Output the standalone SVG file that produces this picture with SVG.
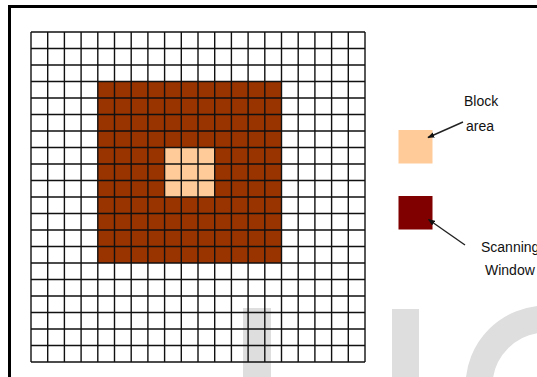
<svg xmlns="http://www.w3.org/2000/svg" width="537" height="377" viewBox="0 0 537 377">
<defs>
<style>
.wm{fill:#dedede}
.grid{stroke:#111;stroke-width:1.4;fill:none}
.lbl{font-family:"Liberation Sans",Arial,sans-serif;font-size:14px;fill:#111}
.arr{stroke:#222;stroke-width:1.4;fill:none}
</style>
<marker id="ah" viewBox="0 0 10 10" refX="9" refY="5" markerWidth="7" markerHeight="7" orient="auto" markerUnits="userSpaceOnUse">
<path d="M0,1 L10,5 L0,9 Z" fill="#111"/>
</marker>
</defs>
<rect x="0" y="0" width="537" height="377" fill="#fff"/>
<rect x="9.5" y="6.5" width="600" height="420" fill="none" stroke="#000" stroke-width="3"/>
<g id="watermark">
<rect class="wm" x="243" y="308" width="28" height="70"/>
<rect class="wm" x="392" y="309" width="27" height="70"/>
<circle cx="546" cy="386" r="67" fill="none" stroke="#dedede" stroke-width="27"/>
</g>
<g id="grid-fill">
<rect x="97.8" y="81.5" width="183.7" height="181.5" fill="#993300"/>
<rect x="164.6" y="147.5" width="50.1" height="49.5" fill="#ffcc99"/>
</g>
<g id="grid" class="grid">
<path d="M31,32V362M47.7,32V362M64.4,32V362M81.1,32V362M97.8,32V362M114.5,32V362M131.2,32V362M147.9,32V362M164.6,32V362M181.3,32V362M198,32V362M214.7,32V362M231.4,32V362M248.1,32V362M264.8,32V362M281.5,32V362M298.2,32V362M314.9,32V362M331.6,32V362M348.3,32V362M365,32V362"/>
<path d="M31,32H365M31,48.5H365M31,65H365M31,81.5H365M31,98H365M31,114.5H365M31,131H365M31,147.5H365M31,164H365M31,180.5H365M31,197H365M31,213.5H365M31,230H365M31,246.5H365M31,263H365M31,279.5H365M31,296H365M31,312.5H365M31,329H365M31,345.5H365M31,362H365"/>
</g>
<g id="legend-block">
<rect x="398.5" y="130" width="34" height="33.5" fill="#ffcc99"/>
<text class="lbl" x="464" y="106">Block</text>
<text class="lbl" x="466" y="131">area</text>
</g>
<g id="legend-window">
<rect x="398.5" y="196" width="34" height="33.5" fill="#800000"/>
<text class="lbl" x="481" y="252">Scanning</text>
<text class="lbl" x="485" y="275">Window</text>
</g>
<g id="connectors">
<line class="arr" x1="463" y1="122" x2="428" y2="137.5" marker-end="url(#ah)"/>
<line class="arr" x1="465" y1="245" x2="428.5" y2="219.5" marker-end="url(#ah)"/>
</g>
</svg>
